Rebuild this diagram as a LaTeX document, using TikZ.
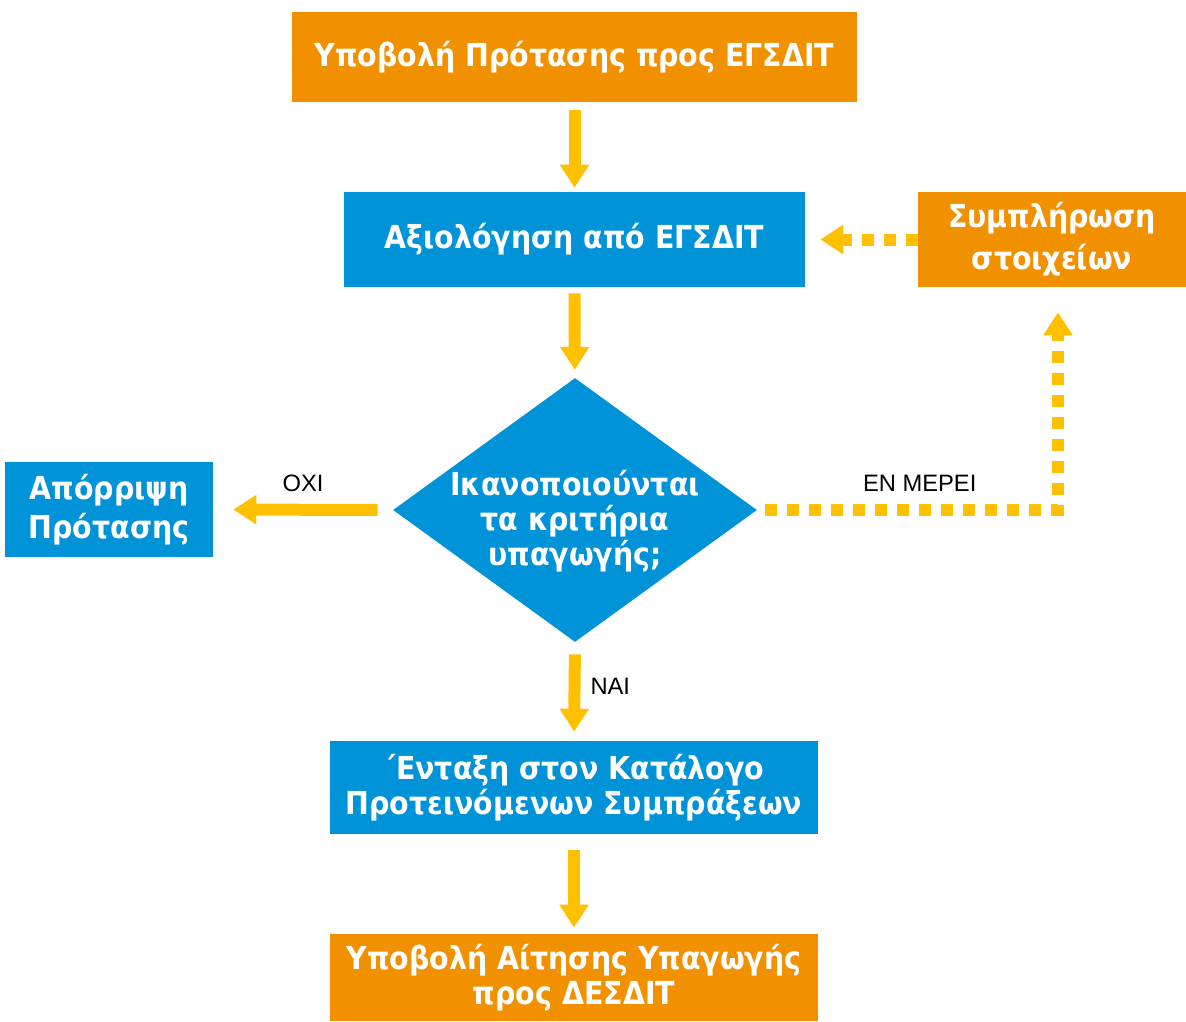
\documentclass[tikz,border=0pt]{standalone}
\usepackage{fontspec}
\setmainfont{Liberation Sans}
\newfontfamily\boxfont{DejaVu Sans Condensed}
\usetikzlibrary{arrows.meta,shapes.geometric}

\definecolor{steporange}{HTML}{F29100}
\definecolor{stepblue}{HTML}{0093D8}
\definecolor{flowyellow}{HTML}{FFC000}

\tikzset{
  boxtext/.style={text=white,align=center,inner sep=0pt,
    font=\boxfont\bfseries\fontsize{18}{20}\selectfont},
  procbox/.style={boxtext,fill=#1},
  flow/.style={draw=flowyellow,line width=0.24cm,
    -{Triangle[width=0.56cm,length=0.46cm]}},
  dotflow/.style={flow,dash pattern=on 0.24cm off 0.2cm},
  lbl/.style={inner sep=0pt,font=\fontsize{13.5}{15}\selectfont}
}

\begin{document}
\begin{tikzpicture}[x=0.02cm,y=-0.02cm]
      \useasboundingbox (0,0) rectangle (1186,1021);
      \node[procbox=steporange,minimum width=11.3cm,minimum height=1.8cm] (sub) at (574.5,57) {Υποβολή Πρότασης προς ΕΓΣΔΙΤ};
      \node[procbox=stepblue,minimum width=9.22cm,minimum height=1.9cm] (eval) at (574.5,239.5) {Αξιολόγηση από ΕΓΣΔΙΤ};
      \node[procbox=steporange,minimum width=5.36cm,minimum height=1.9cm] (compl) at (1052,239.5) {Συμπλήρωση\\[4pt]στοιχείων};
      \node[diamond,fill=stepblue,inner sep=0pt,minimum width=7.28cm,minimum height=5.28cm,
        label={[boxtext,yshift=-0.22cm]center:{Ικανοποιούνται\\τα κριτήρια\\υπαγωγής;}}] (dec) at (575,510) {};
      \node[procbox=stepblue,minimum width=4.16cm,minimum height=1.9cm] (rej) at (109,509.5) {Απόρριψη\\[2pt]Πρότασης};
      \node[procbox=stepblue,minimum width=9.76cm,minimum height=1.86cm] (list) at (574,787.5) {΄Ενταξη στον Κατάλογο\\Προτεινόμενων Συμπράξεων};
      \node[procbox=steporange,minimum width=9.76cm,minimum height=1.74cm] (app) at (574,977.5) {Υποβολή Αίτησης Υπαγωγής\\προς ΔΕΣΔΙΤ};

      \draw[flow,shorten <=0.16cm,shorten >=0.08cm] (sub) -- (eval);
      \draw[flow,shorten <=0.12cm,shorten >=0.16cm] (eval) -- (dec);
      \draw[flow,shorten <=0.3cm,shorten >=0.4cm] (dec.west) -- node[lbl,above=0.25cm] {ΟΧΙ} (rej.east);
      \draw[flow,shorten <=0.24cm,shorten >=0.18cm] (dec.south) -- node[lbl,right=0.2cm,yshift=0.1cm] {ΝΑΙ} (list.north);
      \draw[flow,shorten <=0.32cm,shorten >=0.12cm] (list) -- (app);
      \draw[dotflow,shorten >=0.3cm] (compl.west) -- (eval.east);
      \draw[dotflow,shorten <=0.16cm,shorten >=0.5cm] (dec.east) -| node[lbl,pos=0.27,above=0.25cm] {ΕΝ ΜΕΡΕΙ} ([xshift=0.12cm]compl.south);
    \end{tikzpicture}
\end{document}
